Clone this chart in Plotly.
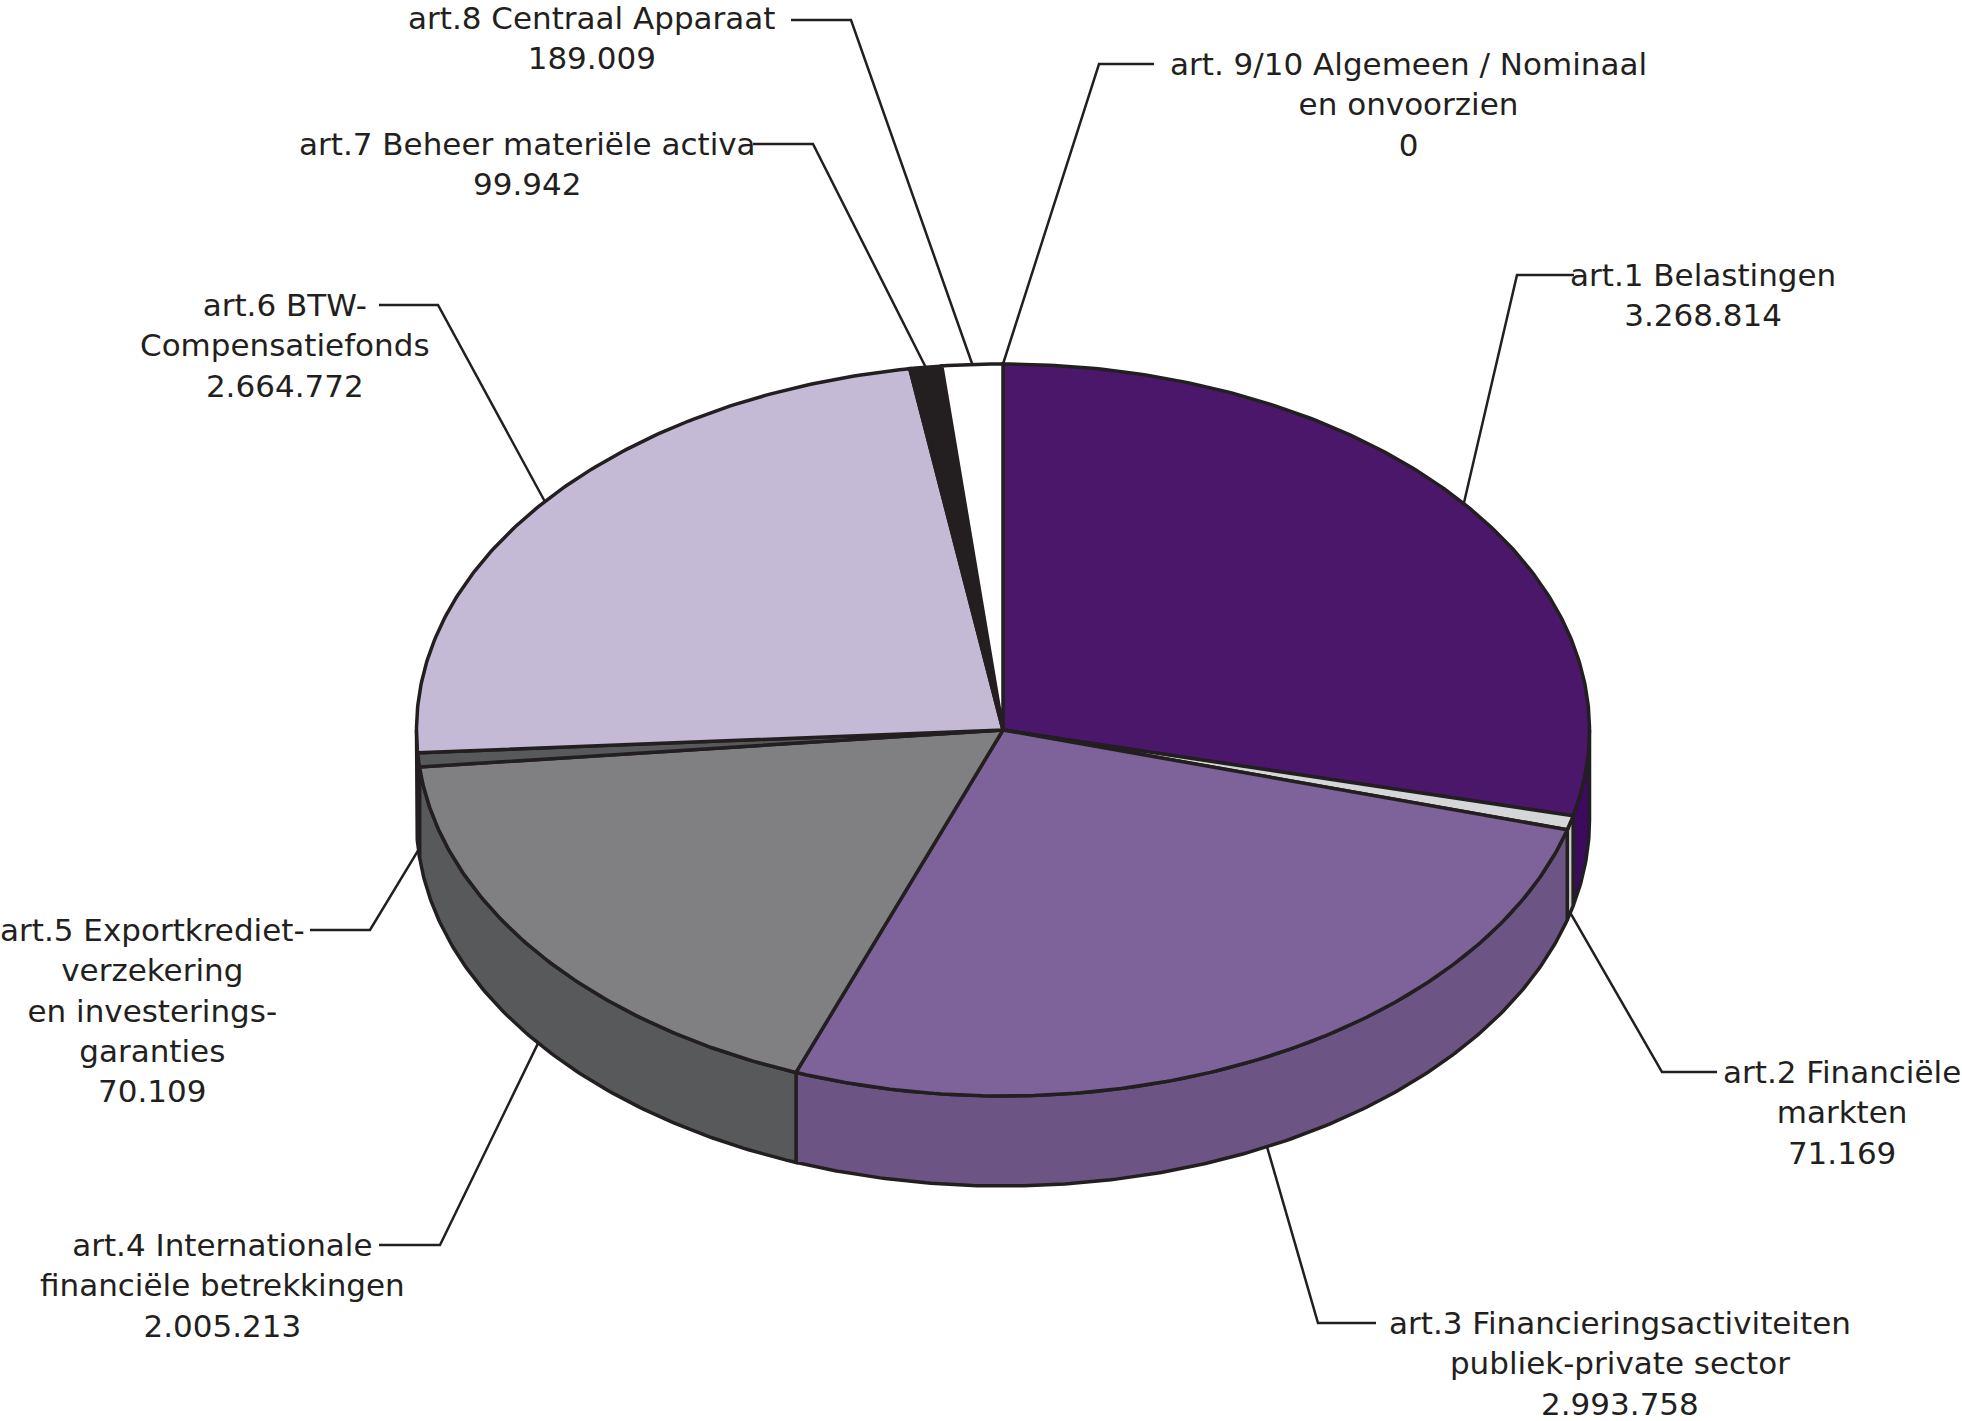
import numpy as np
import plotly.graph_objects as go

# ---------------- data ----------------
names = ["art.1", "art.2", "art.3", "art.4", "art.5", "art.6", "art.7", "art.8", "art. 9/10"]
name_lines = [
    ["art.1 Belastingen"],
    ["art.2 Financiële", "markten"],
    ["art.3 Financieringsactiviteiten", "publiek-private sector"],
    ["art.4 Internationale", "financiële betrekkingen"],
    ["art.5 Exportkrediet-", "verzekering", "en investerings-", "garanties"],
    ["art.6 BTW-", "Compensatiefonds"],
    ["art.7 Beheer materiële activa"],
    ["art.8 Centraal Apparaat"],
    ["art. 9/10 Algemeen / Nominaal", "en onvoorzien"],
]
values = [3268814, 71169, 2993758, 2005213, 70109, 2664772, 99942, 189009, 0]

top_colors = ["#4A176B", "#D4D6D8", "#7D6399", "#808083", "#58595B",
              "#C5BAD5", "#231F20", "#FFFFFF", "#FFFFFF"]
side_colors = ["#3C0A5E", "#C9CBCD", "#6C5585", "#58595B", "#454547",
               "#A99EB8", "#231F20", "#E6E6E6", "#E6E6E6"]

# ---------------- layout / geometry (pixels) ----------------
W, H = 1962, 1421
CX, CY, RX, RY, DEPTH = 1003, 730, 586.5, 366, 90
EDGE = "#231F20"

# label block centre (x, y) and leader start / elbow x
label_pos = [
    (1703, 295, 1574, 1517),
    (1842, 1112, 1717, 1662),
    (1620, 1363, 1376, 1318),
    (222, 1285, 379, 440),
    (152, 1010, 310, 370),
    (285, 345, 379, 438),
    (527, 164, 753, 813),
    (592, 38, 791, 851),
    (1408, 104, 1154, 1099),
]
leader_y = [275, 1072, 1323, 1245, 930, 305, 144, 20, 64]


def pt(theta, dz=0.0):
    t = np.radians(theta)
    return CX + RX * np.sin(t), CY - RY * np.cos(t) + dz


total = float(sum(values))
bounds = np.concatenate([[0.0], np.cumsum(values) / total * 360.0])

fig = go.Figure()

# side walls (front half only: 90..270 degrees)
for i, v in enumerate(values):
    s, e = bounds[i], bounds[i + 1]
    lo, hi = max(s, 90.0), min(e, 270.0)
    if hi <= lo:
        continue
    n = max(4, int((hi - lo) * 2))
    ts = np.linspace(lo, hi, n)
    xt, yt = pt(ts)
    xb, yb = pt(ts[::-1], DEPTH)
    xs = np.concatenate([xt, xb, xt[:1]])
    ys = np.concatenate([yt, yb, yt[:1]])
    fig.add_trace(go.Scatter(x=xs, y=ys, mode="lines", fill="toself",
                             fillcolor=side_colors[i],
                             line=dict(color=EDGE, width=3.5),
                             hoverinfo="skip", showlegend=False))

# top faces
for i, v in enumerate(values):
    if v <= 0:
        continue
    s, e = bounds[i], bounds[i + 1]
    n = max(4, int((e - s) * 2))
    ts = np.linspace(s, e, n)
    xa, ya = pt(ts)
    xs = np.concatenate([[CX], xa, [CX]])
    ys = np.concatenate([[CY], ya, [CY]])
    fig.add_trace(go.Scatter(x=xs, y=ys, mode="lines", fill="toself",
                             fillcolor=top_colors[i],
                             line=dict(color=EDGE, width=3.5),
                             hoverinfo="skip", showlegend=False))

# leader lines and labels
annotations = []
for i, v in enumerate(values):
    mid = (bounds[i] + bounds[i + 1]) / 2.0
    if 90.0 < mid < 270.0:
        ax, ay = pt(mid, DEPTH)
    else:
        ax, ay = pt(mid)
    lx, ly, x0, x1 = label_pos[i]
    yl = leader_y[i]
    fig.add_trace(go.Scatter(x=[x0, x1, ax], y=[yl, yl, ay], mode="lines",
                             line=dict(color=EDGE, width=2.5),
                             hoverinfo="skip", showlegend=False))
    value_text = f"{v:,}".replace(",", ".")
    annotations.append(dict(
        x=lx, y=ly, xref="x", yref="y", showarrow=False,
        xanchor="center", yanchor="middle", align="center",
        text="<br>".join(name_lines[i] + [value_text]),
        font=dict(family="DejaVu Sans, Liberation Sans, sans-serif",
                  size=31, color=EDGE),
    ))

fig.update_layout(
    width=W, height=H,
    margin=dict(l=0, r=0, t=0, b=0),
    paper_bgcolor="white", plot_bgcolor="white",
    xaxis=dict(range=[0, W], visible=False, fixedrange=True),
    yaxis=dict(range=[H, 0], visible=False, fixedrange=True),
    showlegend=False, hovermode=False,
    annotations=annotations,
)

fig.write_html("out.html")
